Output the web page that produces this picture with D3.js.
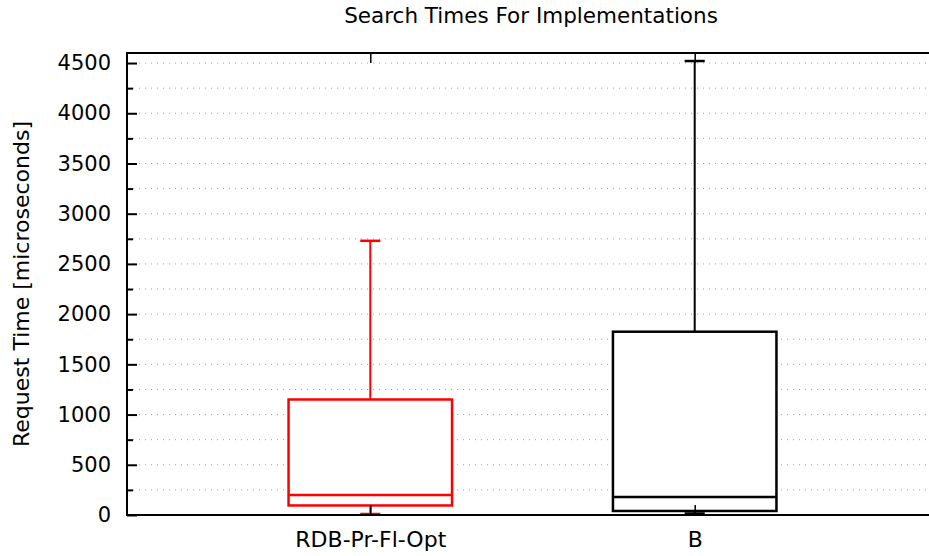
<!DOCTYPE html>
<html>
<head>
<meta charset="utf-8">
<script src="https://cdn.jsdelivr.net/npm/d3@7"></script>
<style>
  html, body { margin: 0; padding: 0; background: #fff; }
  svg { display: block; font-family: "DejaVu Sans", sans-serif; }
</style>
</head>
<body>
<svg id="chart" width="929" height="556"></svg>
<script>
// Box-plot summaries of request times per implementation (microseconds)
const categories   = ["RDB-Pr-Fl-Opt", "B"];
const whiskerLow   = [10, 15];
const quartile1    = [95, 40];
const medians      = [200, 180];
const quartile3    = [1150, 1825];
const whiskerHigh  = [2730, 4520];
const seriesColors = ["#ff0000", "#000000"];
const yTicks       = [0, 500, 1000, 1500, 2000, 2500, 3000, 3500, 4000, 4500];
const yMinorTicks  = [250, 750, 1250, 1750, 2250, 2750, 3250, 3750, 4250];

const svg = d3.select("#chart");
const plotLeft = 127, plotTop = 53, plotBottom = 515, plotRight = 938;

const x = d3.scaleLinear().domain([0.25, 2.75]).range([plotLeft, plotRight]);
const y = d3.scaleLinear().domain([0, 4600]).range([plotBottom, plotTop]);
const boxHalf = 0.252, capHalf = 0.031;

// dotted grid at every major and minor tick
const gridVals = yTicks.concat(yMinorTicks).filter(v => v > 0);
svg.append("g").selectAll("line").data(gridVals).join("line")
  .attr("x1", plotLeft).attr("x2", plotRight)
  .attr("y1", d => y(d)).attr("y2", d => y(d))
  .attr("stroke", "#a0a0a0").attr("stroke-width", 1)
  .attr("stroke-dasharray", "1,5");

// boxes
const g = svg.append("g");
categories.forEach((c, i) => {
  const cx = x(i + 1), col = seriesColors[i];
  const gg = g.append("g").attr("stroke", col).attr("fill", "none");
  // whiskers
  gg.append("line").attr("x1", cx).attr("x2", cx)
    .attr("y1", y(quartile3[i])).attr("y2", y(whiskerHigh[i])).attr("stroke-width", 2);
  gg.append("line").attr("x1", cx).attr("x2", cx)
    .attr("y1", y(quartile1[i])).attr("y2", y(whiskerLow[i])).attr("stroke-width", 2);
  // caps
  [whiskerHigh[i], whiskerLow[i]].forEach(v => {
    gg.append("line").attr("x1", x(i + 1 - capHalf)).attr("x2", x(i + 1 + capHalf))
      .attr("y1", y(v)).attr("y2", y(v)).attr("stroke-width", 2.5);
  });
  // box
  gg.append("rect")
    .attr("x", x(i + 1 - boxHalf)).attr("width", x(i + 1 + boxHalf) - x(i + 1 - boxHalf))
    .attr("y", y(quartile3[i])).attr("height", y(quartile1[i]) - y(quartile3[i]))
    .attr("fill", "#fff").attr("stroke-width", 2.5);
  // median
  gg.append("line").attr("x1", x(i + 1 - boxHalf)).attr("x2", x(i + 1 + boxHalf))
    .attr("y1", y(medians[i])).attr("y2", y(medians[i])).attr("stroke-width", 2.5);
});

// frame
svg.append("rect").attr("x", plotLeft).attr("y", plotTop)
  .attr("width", plotRight - plotLeft).attr("height", plotBottom - plotTop)
  .attr("fill", "none").attr("stroke", "#000").attr("stroke-width", 2);

// y axis: major ticks with labels, minor ticks
const yAxis = d3.axisLeft(y).tickValues(yTicks).tickSizeInner(-10).tickSizeOuter(0)
  .tickPadding(16).tickFormat(d3.format("d"));
const ya = svg.append("g").attr("transform", `translate(${plotLeft},0)`).call(yAxis);
ya.select(".domain").remove();
ya.selectAll(".tick line").attr("stroke", "#000").attr("stroke-width", 2);
ya.selectAll(".tick text").attr("font-size", 21).attr("fill", "#000")
  .attr("font-family", "DejaVu Sans, sans-serif");
const yMinor = d3.axisLeft(y).tickValues(yMinorTicks).tickSizeInner(-6).tickSizeOuter(0).tickFormat("");
const ym = svg.append("g").attr("transform", `translate(${plotLeft},0)`).call(yMinor);
ym.select(".domain").remove();
ym.selectAll(".tick line").attr("stroke", "#000").attr("stroke-width", 2);

// x axis: category ticks at bottom and mirrored at top
const xAxis = d3.axisBottom(x).tickValues([1, 2]).tickSizeInner(-10).tickSizeOuter(0)
  .tickPadding(16).tickFormat(d => categories[d - 1]);
const xa = svg.append("g").attr("transform", `translate(0,${plotBottom})`).call(xAxis);
xa.select(".domain").remove();
xa.selectAll(".tick line").attr("stroke", "#000").attr("stroke-width", 1.5);
xa.selectAll(".tick text").attr("font-size", 22).attr("fill", "#000")
  .attr("font-family", "DejaVu Sans, sans-serif");
const xTop = d3.axisTop(x).tickValues([1, 2]).tickSizeInner(-10).tickSizeOuter(0).tickFormat("");
const xt = svg.append("g").attr("transform", `translate(0,${plotTop})`).call(xTop);
xt.select(".domain").remove();
xt.selectAll(".tick line").attr("stroke", "#000").attr("stroke-width", 1.5);

// title and axis label
svg.append("text").attr("x", 531).attr("y", 23).attr("text-anchor", "middle")
  .attr("font-size", 21.5).attr("fill", "#000").text("Search Times For Implementations");
svg.append("text").attr("transform", "translate(29,284) rotate(-90)")
  .attr("text-anchor", "middle").attr("font-size", 22).attr("fill", "#000")
  .text("Request Time [microseconds]");
</script>
</body>
</html>
